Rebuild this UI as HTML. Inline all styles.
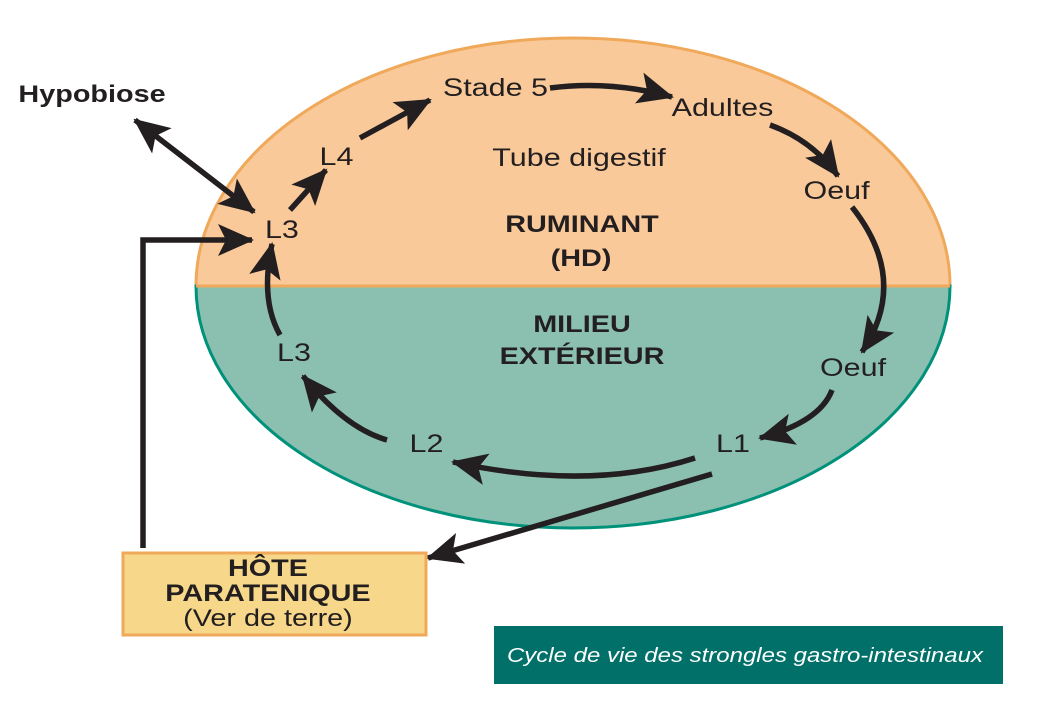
<!DOCTYPE html>
<html><head><meta charset="utf-8"><style>
html,body{margin:0;padding:0;background:#fff;}
svg{display:block;}
text{font-family:"Liberation Sans",Arial,sans-serif;}
</style></head><body>
<svg width="1045" height="702" viewBox="0 0 1045 702" xmlns="http://www.w3.org/2000/svg">
<defs>
<marker id="ah" markerUnits="userSpaceOnUse" markerWidth="38" markerHeight="32" refX="34" refY="16" orient="auto-start-reverse">
<path d="M0,0 L36,16 L0,32 L8,16 Z" fill="#231f20"/>
</marker>
</defs>
<path d="M196,286 A377,248 0 0 1 950,286 Z" fill="#f9c99a" stroke="#f0a95a" stroke-width="3"/>
<path d="M196,286 A377,242 0 0 0 950,286 Z" fill="#8bbfb0" stroke="#00917a" stroke-width="3"/>
<line x1="196" y1="286" x2="950" y2="286" stroke="#f0a95a" stroke-width="3"/>

<g stroke="#231f20" stroke-width="5.5" fill="none">
<line x1="135" y1="120" x2="254" y2="212" marker-start="url(#ah)" marker-end="url(#ah)"/>
<line x1="290" y1="210" x2="326" y2="170" marker-end="url(#ah)"/>
<line x1="360" y1="138" x2="430" y2="100" marker-end="url(#ah)"/>
<path d="M550,88 Q610,80 672,97" marker-end="url(#ah)"/>
<path d="M770,125 Q812,140 838,176" marker-end="url(#ah)"/>
<path d="M852,207 Q910,280 862,352" marker-end="url(#ah)"/>
<path d="M832,390 Q820,422 760,438" marker-end="url(#ah)"/>
<path d="M695,458 Q590,492 453,462" marker-end="url(#ah)"/>
<path d="M387,440 Q345,428 303,376" marker-end="url(#ah)"/>
<path d="M280,335 Q260,300 272,244" marker-end="url(#ah)"/>
<polyline points="143,548 143,240 252,240" marker-end="url(#ah)"/>
<line x1="712" y1="474" x2="428" y2="558" marker-end="url(#ah)"/>
</g>

<g fill="#231f20" font-size="25" text-anchor="middle" transform="scale(1.22,1)">
<text x="231.1" y="238">L3</text>
<text x="275.8" y="165">L4</text>
<text x="406.1" y="96">Stade 5</text>
<text x="592.2" y="116">Adultes</text>
<text x="685.7" y="199">Oeuf</text>
<text x="699.2" y="376">Oeuf</text>
<text x="600.8" y="452">L1</text>
<text x="349.6" y="452">L2</text>
<text x="241.0" y="361">L3</text>
<text x="474.6" y="166">Tube digestif</text>
</g>
<g fill="#231f20" font-size="24" font-weight="bold" text-anchor="middle" transform="scale(1.2,1)">
<text x="76.7" y="102">Hypobiose</text>
<text x="485" y="232">RUMINANT</text>
<text x="484.2" y="266">(HD)</text>
<text x="485" y="332">MILIEU</text>
<text x="485" y="364">EXTÉRIEUR</text>
</g>

<rect x="123" y="553" width="303" height="82" fill="#f7d88a" stroke="#f0a95a" stroke-width="3"/>
<g fill="#231f20" text-anchor="middle" transform="scale(1.2,1)">
<text x="223.3" y="576" font-size="24" font-weight="bold">HÔTE</text>
<text x="223.3" y="601" font-size="24" font-weight="bold">PARATENIQUE</text>
<text x="223.3" y="626" font-size="24">(Ver de terre)</text>
</g>

<rect x="494" y="626" width="509" height="58" fill="#007068"/>
<text x="620.8" y="662" fill="#fff" font-size="20" font-style="italic" text-anchor="middle" transform="scale(1.2,1)">Cycle de vie des strongles gastro-intestinaux</text>
</svg>
</body></html>
